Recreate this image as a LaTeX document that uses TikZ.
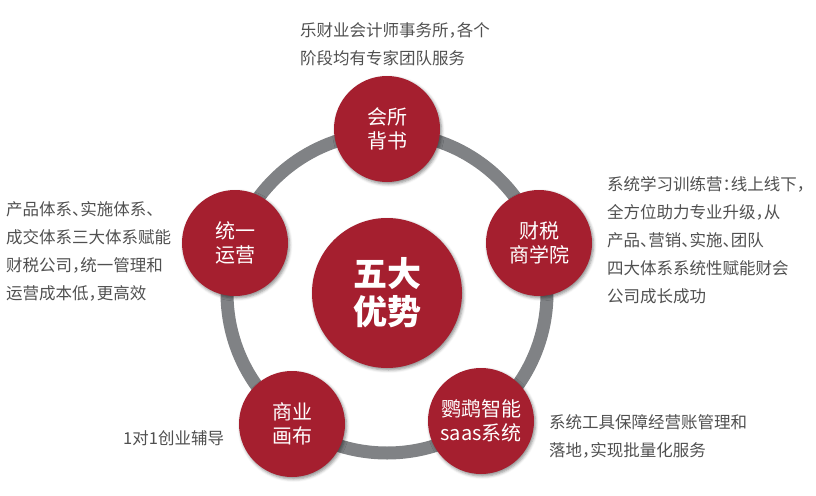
\documentclass[tikz,border=0pt]{standalone}
\usepackage{fontspec}
\setmainfont{Noto Sans CJK SC}[RawFeature={+halt}]
\usetikzlibrary{shadows.blur}
\definecolor{cred}{HTML}{A51F2F}
\definecolor{cring}{HTML}{808285}
\definecolor{ctext}{HTML}{505050}
\tikzset{
  sat/.style={circle, fill=cred, minimum size=106pt, inner sep=0pt, text=white,
    align=center, font=\fontsize{20}{24}\selectfont,
    blur shadow={shadow xshift=1.5pt, shadow yshift=-2pt, shadow blur radius=3pt, shadow opacity=45}},
  hub/.style={circle, fill=cred, minimum size=150pt, inner sep=0pt, text=white,
    align=center, font=\fontsize{34}{38}\selectfont\bfseries,
    blur shadow={shadow xshift=1.5pt, shadow yshift=-2pt, shadow blur radius=3pt, shadow opacity=45}},
  desc/.style={anchor=west, align=left, text=ctext, inner sep=0pt,
    font=\fontsize{16.5}{28}\selectfont},
  ring/.style={draw=cring, line width=13pt}
}
\begin{document}
\begin{tikzpicture}[x=1pt,y=-1pt]
\useasboundingbox (0,0) rectangle (816,495);
\coordinate (o) at (387,293);
\draw[ring] (o) circle[radius=160];
\node[hub] (hub) at (o) {五大\\优势};
\node[sat] (top) at (387,129) {会所\\背书};
\node[sat] (right) at (539,243) {财税\\商学院};
\node[sat] (br) at (481,421) {鹦鹉智能\\saas系统};
\node[sat] (bl) at (292,424) {商业\\画布};
\node[sat] (left) at (235,243) {统一\\运营};
\node[desc] (ttop) at (300,44) {乐财业会计师事务所，各个\\阶段均有专家团队服务};
\node[desc] (tleft) at (6,251) {产品体系、实施体系、\\成交体系三大体系赋能\\财税公司，统一管理和\\运营成本低，更高效};
\node[desc] (tright) at (607,240) {系统学习训练营：线上线下，\\全方位助力专业升级，从\\产品、营销、实施、团队\\四大体系系统性赋能财会\\公司成长成功};
\node[desc] (tbl) at (123,438) {1对1创业辅导};
\node[desc] (tbr) at (549,436) {系统工具保障经营账管理和\\落地，实现批量化服务};
\end{tikzpicture}
\end{document}
